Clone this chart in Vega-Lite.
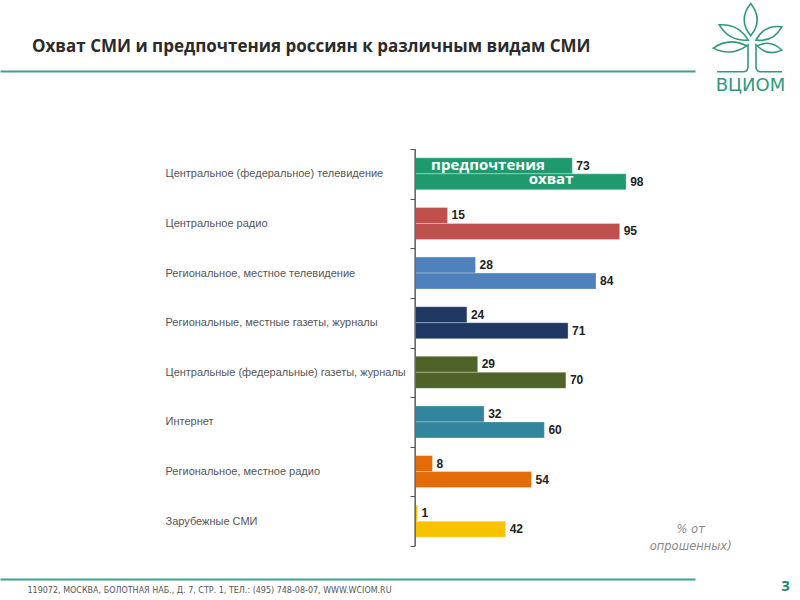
{
  "$schema": "https://vega.github.io/schema/vega-lite/v6.json",
  "autosize": {"type": "none"},
  "width": 695,
  "height": 508,
  "padding": {"left": 0, "top": 71, "right": 105, "bottom": 21},
  "background": "white",
  "config": {"view": {"stroke": null}},
  "title": {
    "text": "Охват СМИ и предпочтения россиян к различным видам СМИ",
    "anchor": "start",
    "frame": "group",
    "dx": 32,
    "offset": -56,
    "font": "Open Sans",
    "fontSize": 17,
    "fontWeight": "bold",
    "color": "#2b2b2b"
  },
  "data": {
    "values": [
      {"category": "Центральное (федеральное) телевидение", "series": "предпочтения", "value": 73},
      {"category": "Центральное (федеральное) телевидение", "series": "охват", "value": 98},
      {"category": "Центральное радио", "series": "предпочтения", "value": 15},
      {"category": "Центральное радио", "series": "охват", "value": 95},
      {"category": "Региональное, местное телевидение", "series": "предпочтения", "value": 28},
      {"category": "Региональное, местное телевидение", "series": "охват", "value": 84},
      {"category": "Региональные, местные газеты, журналы", "series": "предпочтения", "value": 24},
      {"category": "Региональные, местные газеты, журналы", "series": "охват", "value": 71},
      {"category": "Центральные (федеральные) газеты, журналы", "series": "предпочтения", "value": 29},
      {"category": "Центральные (федеральные) газеты, журналы", "series": "охват", "value": 70},
      {"category": "Интернет", "series": "предпочтения", "value": 32},
      {"category": "Интернет", "series": "охват", "value": 60},
      {"category": "Региональное, местное радио", "series": "предпочтения", "value": 8},
      {"category": "Региональное, местное радио", "series": "охват", "value": 54},
      {"category": "Зарубежные СМИ", "series": "предпочтения", "value": 1},
      {"category": "Зарубежные СМИ", "series": "охват", "value": 42}
    ]
  },
  "encoding": {
    "y": {
      "field": "category",
      "type": "nominal",
      "sort": null,
      "scale": {
        "domain": ["Центральное (федеральное) телевидение", "Центральное радио", "Региональное, местное телевидение", "Региональные, местные газеты, журналы", "Центральные (федеральные) газеты, журналы", "Интернет", "Региональное, местное радио", "Зарубежные СМИ"],
        "range": [78, 475],
        "paddingInner": 0,
        "paddingOuter": 0
      },
      "axis": {
        "orient": "left",
        "offset": -415,
        "domain": false,
        "grid": false,
        "ticks": true,
        "tickBand": "extent",
        "tickSize": 5,
        "tickColor": "#555555",
        "tickWidth": 1,
        "labelAlign": "left",
        "labelBaseline": "middle",
        "labelPadding": 245,
        "labelLimit": 320,
        "labelFont": "Liberation Sans",
        "labelFontSize": 11,
        "labelColor": "#555555",
        "title": "3",
        "titleAngle": 0,
        "titleX": 370,
        "titleY": 514,
        "titleAlign": "center",
        "titleBaseline": "middle",
        "titleFont": "Open Sans",
        "titleFontSize": 15,
        "titleFontWeight": "bold",
        "titleColor": "#1f8a6c"
      }
    }
  },
  "layer": [
    {
      "mark": {"type": "bar", "stroke": "white", "strokeWidth": 0.6, "strokeOpacity": 0.5},
      "encoding": {
        "x": {
          "field": "value",
          "type": "quantitative",
          "scale": {"domain": [-193, 130], "nice": false},
          "axis": {
            "orient": "top",
            "labels": false,
            "ticks": false,
            "grid": false,
            "domain": true,
            "domainColor": "#3f9f91",
            "domainWidth": 2,
            "title": "ВЦИОМ",
            "titleX": 750,
            "titleY": 14,
            "titleAlign": "center",
            "titleBaseline": "middle",
            "titleFont": "DejaVu Sans",
            "titleFontSize": 18,
            "titleFontWeight": "normal",
            "titleColor": "#2e9a7a"
          }
        },
        "yOffset": {
          "field": "series",
          "type": "nominal",
          "scale": {"domain": ["предпочтения", "охват"], "paddingInner": 0, "paddingOuter": 0.55}
        },
        "color": {
          "field": "category",
          "type": "nominal",
          "scale": {
            "domain": ["Центральное (федеральное) телевидение", "Центральное радио", "Региональное, местное телевидение", "Региональные, местные газеты, журналы", "Центральные (федеральные) газеты, журналы", "Интернет", "Региональное, местное радио", "Зарубежные СМИ"],
            "range": ["#1f9a6f", "#c0504d", "#4f81bd", "#1f3864", "#4f6228", "#31859c", "#e36c09", "#f7c200"]
          },
          "legend": null
        }
      }
    },
    {
      "mark": {"type": "text", "align": "left", "baseline": "middle", "dx": 4, "font": "Liberation Sans", "fontSize": 12, "fontWeight": "bold", "color": "#222222"},
      "encoding": {
        "x": {
          "field": "value",
          "type": "quantitative",
          "axis": {
            "orient": "bottom",
            "labels": false,
            "ticks": false,
            "grid": false,
            "domain": true,
            "domainColor": "#3f9f91",
            "domainWidth": 2,
            "title": "119072, МОСКВА, БОЛОТНАЯ НАБ., Д. 7, СТР. 1, ТЕЛ.: (495) 748-08-07, WWW.WCIOM.RU",
            "titleX": 27,
            "titleY": 11,
            "titleAlign": "left",
            "titleBaseline": "middle",
            "titleFont": "DejaVu Sans",
            "titleFontSize": 8,
            "titleFontWeight": "normal",
            "titleColor": "#555555"
          }
        },
        "yOffset": {"field": "series", "type": "nominal"},
        "text": {"field": "value", "type": "quantitative"}
      }
    },
    {
      "mark": {"type": "bar", "color": "#666666"},
      "encoding": {
        "x": {"datum": -0.3, "axis": null},
        "x2": {"datum": 0.3}
      }
    },
    {
      "data": {"values": [{"category": "Центральное (федеральное) телевидение", "series": "предпочтения", "label": "предпочтения"}]},
      "mark": {"type": "text", "align": "center", "baseline": "middle", "dy": -1, "font": "Open Sans", "fontSize": 15, "fontWeight": "bold", "color": "white"},
      "encoding": {
        "x": {"datum": 33.8, "axis": null},
        "yOffset": {"field": "series", "type": "nominal"},
        "text": {"field": "label", "type": "nominal"}
      }
    },
    {
      "data": {"values": [{"category": "Центральное (федеральное) телевидение", "series": "охват", "label": "охват"}]},
      "mark": {"type": "text", "align": "center", "baseline": "middle", "dy": -3, "font": "Open Sans", "fontSize": 15, "fontWeight": "bold", "color": "white"},
      "encoding": {
        "x": {"datum": 63.1, "axis": null},
        "yOffset": {"field": "series", "type": "nominal"},
        "text": {"field": "label", "type": "nominal"}
      }
    },
    {
      "data": {"values": [{"category": "Зарубежные СМИ"}]},
      "mark": {"type": "text", "text": ["% от", "опрошенных)"], "align": "center", "baseline": "top", "dy": 3, "lineHeight": 17, "font": "DejaVu Sans", "fontStyle": "italic", "fontSize": 11.5, "color": "#8a8a8a"},
      "encoding": {
        "x": {"datum": 128, "axis": null}
      }
    },
    {
      "data": {"values": [{"category": "Центральное (федеральное) телевидение"}]},
      "mark": {
        "type": "point",
        "shape": "M 0.7 -138 Q -12.3 -154 0.7 -170.3 Q 13.7 -154 0.7 -138 Z M -1.7 -133.7 Q -11.5 -150.2 -30.7 -149 Q -20.9 -132.5 -1.7 -133.7 Z M 6 -133.7 Q 14.25 -149.24 31.7 -147 Q 23.45 -131.46 6 -133.7 Z M -3.3 -128 Q -20.7 -136.8 -36.7 -125.7 Q -19.3 -116.9 -3.3 -128 Z M 7.3 -128 Q 21.06 -134.7 31.7 -123.7 Q 17.94 -117 7.3 -128 Z M -33 -102 L -7 -102 Q -2 -102 -2 -107 L -2 -130 M 6 -130 L 6 -107 Q 6 -102 11 -102 L 32 -102",
        "size": 4,
        "filled": false,
        "stroke": "#2e9a7a",
        "strokeWidth": 1.6,
        "opacity": 1
      },
      "encoding": {
        "x": {"datum": 155.56, "axis": null}
      }
    }
  ],
  "resolve": {"axis": {"x": "independent"}}
}
